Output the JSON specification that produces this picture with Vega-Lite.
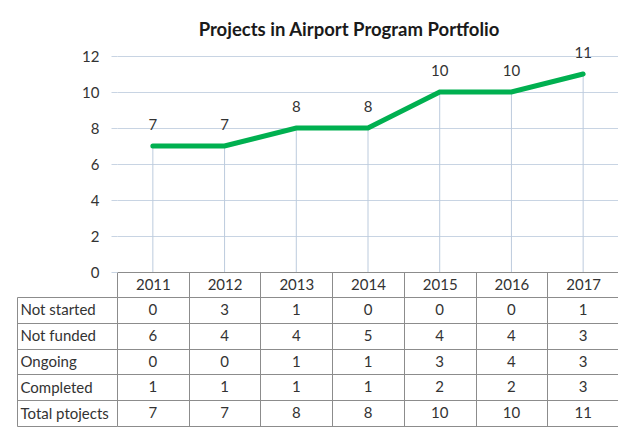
{
  "$schema": "https://vega.github.io/schema/vega-lite/v6.json",
  "padding": {"left": 16, "top": 20, "right": 0, "bottom": 0},
  "background": "white",
  "config": {"font": "Lato", "view": {"stroke": null}},
  "bounds": "flush",
  "spacing": 25,
  "title": {"text": "Projects in Airport Program Portfolio", "fontSize": 18.5, "fontWeight": "bold", "color": "#1a1a1a", "anchor": "middle", "dx": 31, "offset": 7},
  "data": {"values": [
    {"year": "2011", "Not started": 0, "Not funded": 6, "Ongoing": 0, "Completed": 1, "Total ptojects": 7},
    {"year": "2012", "Not started": 3, "Not funded": 4, "Ongoing": 0, "Completed": 1, "Total ptojects": 7},
    {"year": "2013", "Not started": 1, "Not funded": 4, "Ongoing": 1, "Completed": 1, "Total ptojects": 8},
    {"year": "2014", "Not started": 0, "Not funded": 5, "Ongoing": 1, "Completed": 1, "Total ptojects": 8},
    {"year": "2015", "Not started": 0, "Not funded": 4, "Ongoing": 3, "Completed": 2, "Total ptojects": 10},
    {"year": "2016", "Not started": 0, "Not funded": 4, "Ongoing": 4, "Completed": 2, "Total ptojects": 10},
    {"year": "2017", "Not started": 1, "Not funded": 3, "Ongoing": 3, "Completed": 3, "Total ptojects": 11}
  ]},
  "vconcat": [
    {
      "width": 502,
      "height": 216,
      "encoding": {
        "x": {"field": "year", "type": "ordinal", "scale": {"paddingInner": 0, "paddingOuter": 0},
          "axis": {"orient": "bottom", "title": null, "grid": false, "tickBand": "extent", "tickExtra": true, "tickSize": 25, "tickColor": "#8c8c8c", "domainColor": "#8c8c8c", "labelFontSize": 15, "labelColor": "#333333", "labelAngle": 0, "labelBaseline": "middle", "labelPadding": -12.5}},
        "y": {"field": "Total ptojects", "type": "quantitative", "scale": {"domain": [0, 12], "nice": false},
          "axis": {"title": null, "values": [0, 2, 4, 6, 8, 10, 12], "labelOverlap": false, "domain": false, "tickSize": 6, "tickColor": "#c8d4e3", "gridColor": "#c8d4e3", "labelFontSize": 15, "labelColor": "#333333", "labelPadding": 12}}
      },
      "layer": [
        {
          "mark": {"type": "rule", "color": "#bccbdd", "strokeWidth": 1},
          "encoding": {"y2": {"datum": 0}}
        },
        {
          "mark": {"type": "line", "color": "#00b050", "strokeWidth": 5, "strokeCap": "round"},
          "encoding": {}
        },
        {
          "mark": {"type": "text", "dy": -21, "fontSize": 15, "color": "#333333"},
          "encoding": {"text": {"field": "Total ptojects", "type": "quantitative"}}
        }
      ]
    },
    {
      "width": 502,
      "height": 129,
      "transform": [{"fold": ["Not started", "Not funded", "Ongoing", "Completed", "Total ptojects"], "as": ["status", "count"]}],
      "mark": {"type": "text", "fontSize": 15, "color": "#333333"},
      "encoding": {
        "x": {"field": "year", "type": "ordinal", "scale": {"paddingInner": 0, "paddingOuter": 0},
          "axis": {"title": null, "labels": false, "ticks": false, "domain": false, "grid": true, "gridColor": "#8c8c8c", "tickBand": "extent", "tickExtra": true}},
        "y": {"field": "status", "type": "ordinal", "sort": ["Not started", "Not funded", "Ongoing", "Completed", "Total ptojects"], "scale": {"paddingInner": 0, "paddingOuter": 0},
          "axis": {"title": null, "offset": 100, "domain": true, "domainColor": "#8c8c8c", "ticks": true, "tickSize": -100, "tickColor": "#8c8c8c", "tickBand": "extent", "tickExtra": true, "grid": true, "gridColor": "#8c8c8c", "labelAlign": "left", "labelPadding": 97, "labelFontSize": 15, "labelColor": "#333333"}},
        "text": {"field": "count", "type": "quantitative"}
      }
    }
  ]
}
